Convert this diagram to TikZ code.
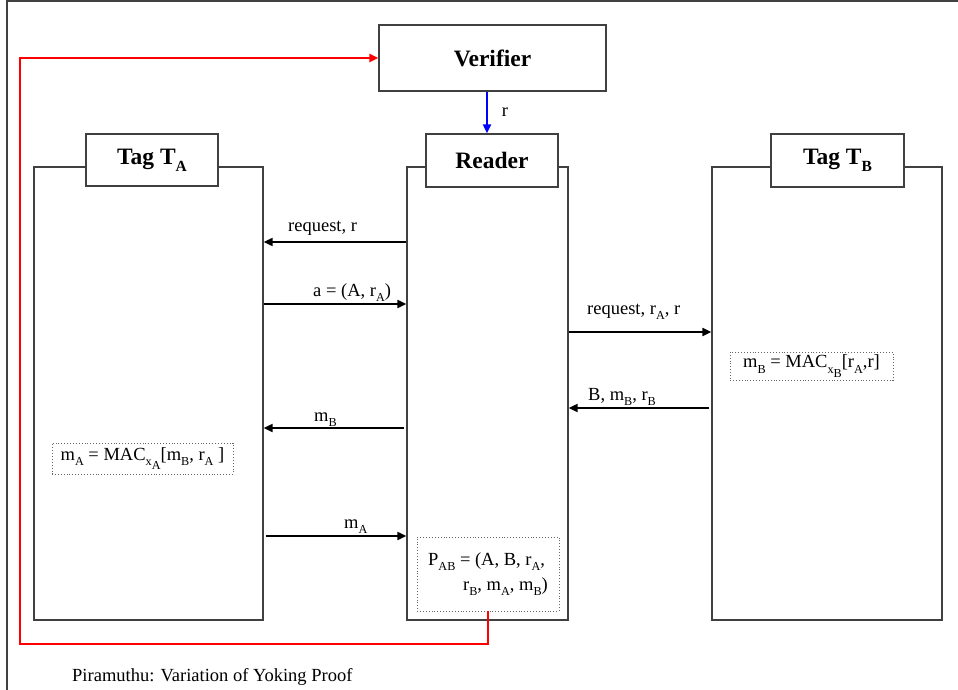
\documentclass[tikz,border=0pt]{standalone}
\usepackage{fontspec}
\setmainfont{Liberation Serif}
\usetikzlibrary{arrows.meta}
\newcommand{\tsub}[1]{\raisebox{-0.3em}{\scalebox{0.66}{#1}}}
\newcommand{\tsubsub}[1]{\raisebox{-0.35em}{#1}}
\begin{document}
\begin{tikzpicture}[x=1pt,y=-1pt,
  lbl/.style={font=\fontsize{18.5}{25}\selectfont, inner sep=0pt},
  ttl/.style={font=\fontsize{23.5}{28}\selectfont\bfseries},
  life/.style={draw=black!75, line width=1.3pt, fill=white, inner sep=0pt},
  head/.style={draw=black!75, line width=1.3pt, fill=white, inner sep=0pt},
  tip/.style={-{Triangle[length=9pt,width=8pt]}},
  msg/.style={line width=2pt, tip},
  dotbox/.style={draw=black!60, dotted, line width=0.9pt, inner sep=0pt, fill=white},
  frame/.style={draw=black!75, line width=1.3pt},
]
\useasboundingbox (0,0) rectangle (958,690);
% frame (top and left edges)
\coordinate (fbl) at (7,690);
\coordinate (ftl) at (7,1);
\coordinate (ftr) at (958,1);
\draw[frame] (fbl) -- (ftl) -- (ftr);

% lifelines
\node[life, minimum width=229pt, minimum height=453pt] (taL) at (148.5,393.5) {};
\node[life, minimum width=161pt, minimum height=453pt] (rdL) at (487.5,393.5) {};
\node[life, minimum width=230pt, minimum height=453pt] (tbL) at (827,393.5) {};

% headers
\node[head, ttl, minimum width=132pt, minimum height=52pt] (taH) at (152,160) {Tag T\tsub{A}};
\node[head, ttl, minimum width=132pt, minimum height=53pt] (rdH) at (492,160.5) {Reader};
\node[head, ttl, minimum width=133pt, minimum height=53pt] (tbH) at (837.5,160.5) {Tag T\tsub{B}};
\node[head, ttl, minimum width=227pt, minimum height=66pt] (verifier) at (492.5,58) {Verifier};

% blue arrow
\coordinate (bx) at (487,0);
\draw[blue, line width=2pt, tip] (verifier.south -| bx) -- (rdH.north -| bx);
\node[lbl, anchor=base] (rlbl) at (505,117) {r};

% messages
\coordinate (y1) at (0,242);
\coordinate (y2) at (0,304);
\coordinate (y3) at (0,332);
\coordinate (y4) at (0,408);
\coordinate (y5) at (0,428);
\coordinate (y6) at (0,536);
\draw[msg] (rdL.west |- y1) -- (taL.east |- y1);
\node[lbl, anchor=base west] (l1) at (288,231) {request, r};
\draw[msg] (taL.east |- y2) -- (rdL.west |- y2);
\node[lbl, anchor=base west] (l2) at (313,296) {a = (A, r\tsub{A})};
\draw[msg] (rdL.east |- y3) -- (tbL.west |- y3);
\node[lbl, anchor=base west] (l3) at (587,314) {request, r\tsub{A}, r};
\draw[msg, shorten <=2pt] (tbL.west |- y4) -- (rdL.east |- y4);
\node[lbl, anchor=base west] (l4) at (588,400) {B, m\tsub{B}, r\tsub{B}};
\draw[msg, shorten <=2pt] (rdL.west |- y5) -- (taL.east |- y5);
\node[lbl, anchor=base west] (l5) at (314,421) {m\tsub{B}};
\draw[msg, shorten <=2pt] (taL.east |- y6) -- (rdL.west |- y6);
\node[lbl, anchor=base west] (l6) at (344,528) {m\tsub{A}};

% computation boxes
\node[dotbox, lbl, minimum width=181pt, minimum height=31pt] (macA) at (142.5,458.5)
  {m\tsub{A} = MAC\tsub{x\tsubsub{A}}[m\tsub{B}, r\tsub{A} ]};
\node[dotbox, lbl, minimum width=163pt, minimum height=28pt] (macB) at (811.5,366)
  {m\tsub{B} = MAC\tsub{x\tsubsub{B}}[r\tsub{A},r]};
\node[dotbox, lbl, minimum width=142pt, minimum height=74pt, align=left] (pab) at (488,574)
  {P\tsub{AB} = (A, B, r\tsub{A},\\\hspace*{35pt}r\tsub{B}, m\tsub{A}, m\tsub{B})};

% red proof path to verifier
\coordinate (rc) at (20,644);
\draw[red, line width=2.6pt, tip] (pab.south) |- (rc) |- (verifier.west);

% caption
\node[lbl, anchor=base west] (cap) at (72,681) {Piramuthu: Variation of Yoking Proof};
\end{tikzpicture}
\end{document}
